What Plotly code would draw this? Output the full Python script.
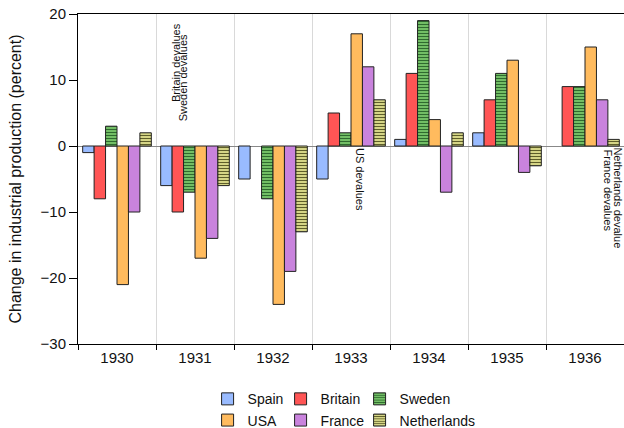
import plotly.graph_objects as go

years = ["1930", "1931", "1932", "1933", "1934", "1935", "1936"]
spain = [-1, -6, -5, -5, 1, 2, 0]
britain = [-8, -10, 0, 5, 11, 7, 9]
sweden = [3, -7, -8, 2, 19, 11, 9]
usa = [-21, -17, -24, 17, 4, 13, 15]
france = [-10, -14, -19, 12, -7, -4, 7]
netherlands = [2, -6, -13, 7, 2, -3, 1]

series = [
    ("Spain", spain, "#99bbff", None, "g1", 28),
    ("Britain", britain, "#ff5555", None, "g2", 34),
    ("Sweden", sweden, "#80d070", "#2f6a2f", "g3", 80),
    ("USA", usa, "#ffbb5e", None, "g1", 28),
    ("France", france, "#c983dd", None, "g2", 34),
    ("Netherlands", netherlands, "#eeee99", "#5e5e2a", "g3", 80),
]

fig = go.Figure()
for name, vals, color, stripe, grp, lw in series:
    marker = dict(color=color,
                  line=dict(color="#222222",
                            width=[0 if v == 0 else 1 for v in vals]))
    if stripe:
        marker["pattern"] = dict(shape="-", bgcolor=color, fgcolor=stripe,
                                 size=3, solidity=0.45, fillmode="replace")
    fig.add_trace(go.Bar(name=name, x=years, y=vals, marker=marker,
                         legendgroup=grp, legendwidth=lw))

font = "Liberation Sans, Arial, sans-serif"
ann_font = dict(family=font, size=11, color="#111111")
annotations = [
    dict(text="Britain devalues", x=0.755, y=12.7, textangle=-90),
    dict(text="Sweden devalues", x=0.85, y=10.3, textangle=-90),
    dict(text="US devalues", x=3.115, y=-5.15, textangle=90),
    dict(text="France devalues", x=6.29, y=-6.7, textangle=90),
    dict(text="Netherlands devalue", x=6.42, y=-7.9, textangle=90),
]
for a in annotations:
    a.update(xref="x", yref="y", showarrow=False, font=ann_font,
             xanchor="center", yanchor="middle")

fig.update_layout(
    width=624, height=428,
    margin=dict(l=78, r=0, t=14, b=84, autoexpand=False),
    paper_bgcolor="white", plot_bgcolor="white",
    font=dict(family=font, size=14, color="#111111"),
    barmode="group", bargap=0.12, bargroupgap=0,
    showlegend=True,
    legend=dict(orientation="h", traceorder="grouped", tracegroupgap=0,
                x=0.491, xanchor="center", y=-0.119, yanchor="top",
                itemwidth=30, font=dict(size=14)),
    annotations=annotations,
)
fig.update_xaxes(range=[-0.5, len(years) - 0.5], autorange=False,
                 showline=True, linecolor="black", linewidth=1, mirror=True,
                 tickson="boundaries", ticks="outside", ticklen=5,
                 tickcolor="black", showgrid=True, gridcolor="#d9d9d9",
                 gridwidth=1, tickfont=dict(size=15), automargin=False)
fig.update_yaxes(range=[-30, 20], dtick=10, showline=True, linecolor="black",
                 linewidth=1, ticks="outside", ticklen=8, tickcolor="black",
                 showgrid=False, zeroline=True, zerolinecolor="#888888",
                 zerolinewidth=1, tickfont=dict(size=15), automargin=False,
                 ticklabeloverflow="allow",
                 title=dict(text="Change in industrial production (percent)",
                            font=dict(size=16), standoff=14))

fig.write_html(
    "out.html",
    config={"displayModeBar": False},
    post_script="document.body.style.margin='0';"
                "document.body.style.overflow='hidden';",
)
